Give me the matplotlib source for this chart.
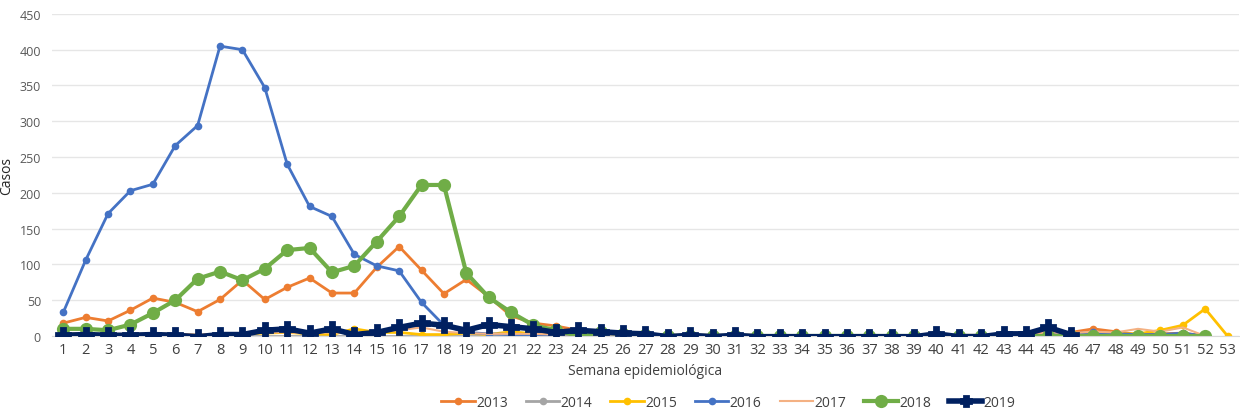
import matplotlib.pyplot as plt
import numpy as np

plt.rcParams["font.family"] = ["Open Sans", "DejaVu Sans"]

WEEKS = list(range(1, 54))

Y2013 = [18, 26, 21, 36, 53, 47, 34, 51, 78, 51, 68, 81, 60, 60, 96, 125, 92, 59, 79, 55,
         28, 18, 14, 8, 5, 4, 3, 1, 1, 1, 1, 1, 0, 0, 0, 0, 0, 0, 0, 1, 1, 1, 2, 3, 5, 5,
         10, 6, 2, 3, 4, 0]
Y2014 = [0, 0, 0, 0, 0, 0, 0, 0, 0, 0, 0, 0, 0, 0, 0, 0, 0, 0, 0, 0, 0, 0, 0, 0, 0, 0,
         0, 0, 0, 0, 0, 0, 0, 0, 0, 0, 0, 0, 0, 0, 0, 0, 0, 0, 0, 0, 0, 0, 0, 0, 0, 0]
Y2015 = [3, 3, 2, 2, 3, 2, 1, 2, 3, 4, 5, 3, 2, 10, 5, 5, 2, 2, 4, 2, 6, 3, 2, 2, 2, 2,
         1, 1, 1, 1, 1, 1, 0, 0, 0, 0, 0, 0, 0, 0, 0, 0, 0, 1, 2, 1, 2, 3, 3, 8, 15, 38, 0]
Y2016 = [33, 106, 171, 203, 212, 266, 294, 405, 400, 347, 240, 181, 167, 114, 98, 91, 47,
         15, 5, 3, 2, 0, 2, 2, 2, 2, 1, 1, 1, 1, 1, 0, 0, 0, 0, 0, 0, 0, 0, 1, 1, 1, 1, 2,
         3, 3, 5, 3, 2, 2, 4, 0]
Y2017 = [3, 3, 3, 3, 3, 3, 2, 3, 4, 5, 5, 4, 5, 4, 6, 8, 12, 6, 4, 3, 3, 3, 2, 2, 2, 2,
         1, 1, 1, 1, 1, 1, 0, 0, 0, 0, 0, 0, 0, 1, 1, 1, 2, 2, 5, 4, 6, 5, 10, 6, 12, 0]
Y2018 = [10, 10, 8, 16, 32, 50, 80, 90, 78, 94, 120, 123, 89, 98, 132, 167, 211, 211, 88,
         54, 33, 15, 8, 0, 5, 3, 2, 0, 0, 0, 0, 0, 0, 0, 0, 0, 0, 0, 0, 0, 0, 0, 0, 0, 0,
         0, 0, 0, 0, 0, 0, 0]
Y2019 = [1, 2, 1, 1, 2, 1, -1, 2, 2, 8, 10, 4, 10, 2, 5, 12, 18, 15, 8, 16, 13, 10, 5, 8,
         6, 4, 3, -1, 1, -1, 1, -1, -1, -1, -1, -1, -1, -1, -1, 3, -1, -1, 3, 3, 12, 2]

# name, values, colour, line width, marker, marker size, marker edge width
SERIES = [
    ("2013", Y2013, "#ED7D31", 2.0, "o", 5.5, 0),
    ("2014", Y2014, "#A5A5A5", 2.0, "o", 5.5, 0),
    ("2015", Y2015, "#FFC000", 2.0, "o", 5.5, 0),
    ("2016", Y2016, "#4472C4", 2.0, "o", 5.5, 0),
    ("2017", Y2017, "#F4B183", 1.5, None, 0, 0),
    ("2018", Y2018, "#70AD47", 3.0, "o", 9.5, 0),
    ("2019", Y2019, "#002060", 4.0, "P", 10.5, 2.0),
]

fig = plt.figure(figsize=(12.4, 4.14), dpi=100)
ax = fig.add_axes([0.042, 0.186, 0.957, 0.778])

for name, vals, color, lw, marker, ms, mew in SERIES:
    x = WEEKS[:len(vals)]
    ax.plot(x, vals, color=color, linewidth=lw, marker=marker, markersize=ms,
            markeredgewidth=mew, markeredgecolor=color, label=name,
            zorder=3 if name == "2019" else 2)

ax.set_xlim(0.5, 53.5)
ax.set_ylim(0, 450)
ax.set_yticks(np.arange(0, 451, 50))
ax.set_xticks(WEEKS)
ax.grid(axis="y", color="#E6E6E6", linewidth=1)
ax.set_axisbelow(True)
for side in ["top", "right", "left"]:
    ax.spines[side].set_visible(False)
ax.spines["bottom"].set_color("#D9D9D9")
ax.tick_params(axis="both", length=0, colors="#404040")
ax.tick_params(axis="y", labelsize=9, colors="#595959", pad=8)
ax.tick_params(axis="x", labelsize=10.5, pad=4)
ax.set_ylabel("Casos", fontsize=10, color="#262626", labelpad=4)
ax.set_xlabel("Semana epidemiológica", fontsize=10, color="#404040", labelpad=5)

leg = ax.legend(loc="center", bbox_to_anchor=(0.57, -0.205), ncol=7, frameon=False,
                fontsize=10, handlelength=2.4, columnspacing=1.3, handletextpad=0.1,
                labelcolor="#404040", borderaxespad=0)
# the reference draws the 2019 legend symbol smaller than on the line
leg.get_lines()[-1].set_markersize(7)

fig.savefig("out.png", dpi=100)
